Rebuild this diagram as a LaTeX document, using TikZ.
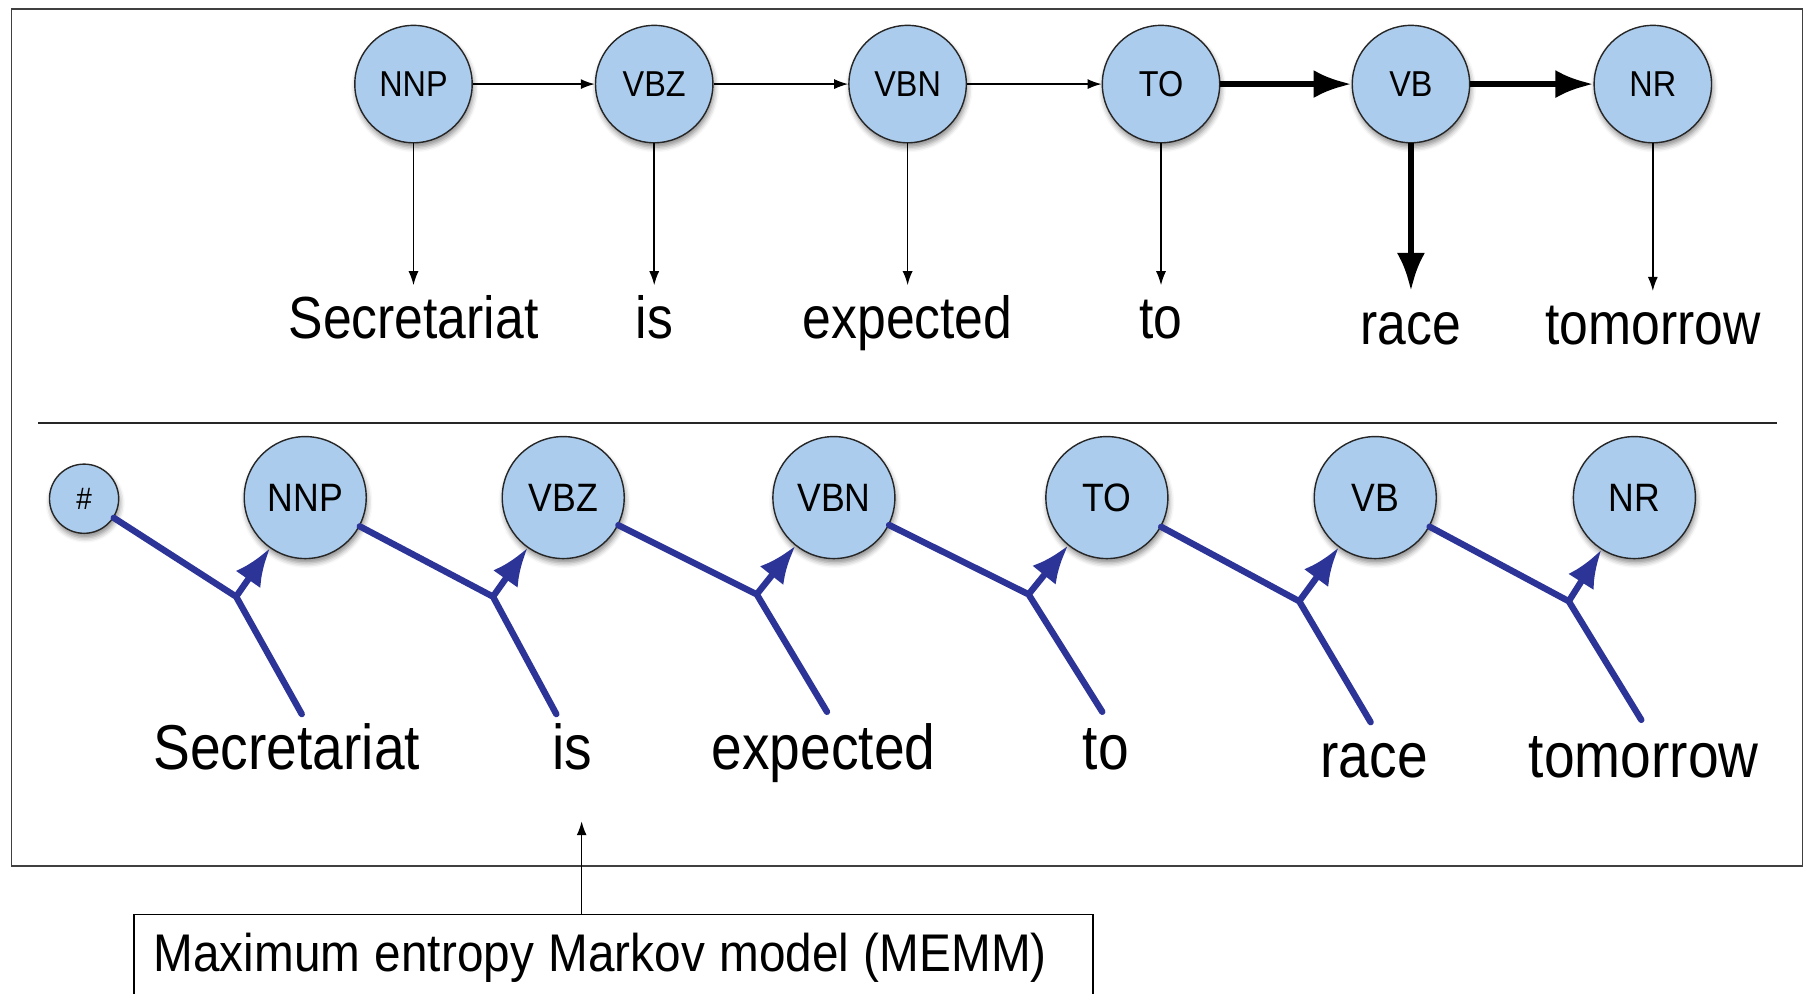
\documentclass[tikz,border=0pt]{standalone}
\usepackage{fontspec}
\setmainfont{Liberation Sans}
\newfontfamily\narrowsans[FakeStretch=0.87]{Liberation Sans}
\newfontfamily\tagsans[FakeStretch=0.9]{Liberation Sans}
\newcommand\memmfont{\tagsans\fontsize{26.5}{29}\selectfont\spaceskip=7.3pt plus 1pt\relax}
\usetikzlibrary{arrows.meta,shadows.blur}
\definecolor{tagfill}{RGB}{171,204,236}
\definecolor{memmblue}{RGB}{44,52,152}

\begin{document}
\begin{tikzpicture}[x=0.5759pt,y=-0.5759pt,
  tagbase/.style={circle,draw=black!85,line width=0.7pt,fill=tagfill,inner sep=0pt,
    blur shadow={shadow xshift=0.6pt,shadow yshift=-2.2pt,shadow blur radius=2.5pt,shadow opacity=45}},
  toptag/.style={tagbase,minimum size=58.7pt,font=\tagsans\fontsize{18}{20}\selectfont},
  bottag/.style={tagbase,minimum size=61pt,font=\tagsans\fontsize{19.8}{22}\selectfont},
  starttag/.style={tagbase,minimum size=34.6pt,font=\tagsans\fontsize{15.5}{17}\selectfont},
  topword/.style={font=\narrowsans\fontsize{29.7}{32}\selectfont,anchor=base,
    text height=21.3pt,text depth=6pt,inner xsep=0pt,inner ysep=5.2pt},
  botword/.style={font=\narrowsans\fontsize{31.7}{34}\selectfont,anchor=base,
    text height=22.8pt,text depth=6pt,inner xsep=0pt,inner ysep=5.2pt},
  thinarrow/.style={line width=0.75pt,-{Latex[length=7pt,width=5pt]}},
  thickarrow/.style={line width=3.3pt,-{Latex[length=19pt,width=14pt]}},
  memmline/.style={draw=memmblue,line width=3.2pt,line cap=round,line join=miter},
  memmarrow/.style={draw=memmblue,fill=memmblue,line width=3.2pt,-{Latex[length=19pt,width=15pt]}},
  memmbox/.style={draw=black,line width=0.9pt,minimum width=479.7pt,minimum height=43.8pt,inner sep=0pt},
  memmtext/.style={anchor=west,inner sep=0pt,font=\memmfont}]

\useasboundingbox (0,0) rectangle (1568,863);

% outer frame and separator
\draw[black!75,line width=0.9pt] (10,8) rectangle (1565,752);
\draw[black!85,line width=0.8pt] (33,367) -- (1543,367);

% ---------- HMM (top) ----------
\node[toptag] (t1) at (359,73) {NNP};
\node[toptag] (t2) at (568,73) {VBZ};
\node[toptag] (t3) at (788,73) {VBN};
\node[toptag] (t4) at (1008,73) {TO};
\node[toptag] (t5) at (1225,73) {VB};
\node[toptag] (t6) at (1435,73) {NR};

\node[topword] (w1) at (359,294) {Secretariat};
\node[topword] (w2) at (568,294) {is};
\node[topword] (w3) at (788,294) {expected};
\node[topword] (w4) at (1008,294) {to};
\node[topword] (w5) at (1225,299) {race};
\node[topword] (w6) at (1435,299) {tomorrow};

\draw[thinarrow] (t1) -- (t2);
\draw[thinarrow] (t2) -- (t3);
\draw[thinarrow] (t3) -- (t4);
\draw[thickarrow] (t4) -- (t5);
\draw[thickarrow] (t5) -- (t6);

\draw[thinarrow] (t1) -- (w1);
\draw[thinarrow] (t2) -- (w2);
\draw[thinarrow] (t3) -- (w3);
\draw[thinarrow] (t4) -- (w4);
\draw[thickarrow] (t5) -- (w5);
\draw[thinarrow] (t6) -- (w6);

% ---------- MEMM (bottom) ----------
\node[starttag] (b0) at (73,433) {\#};
\node[bottag] (b1) at (265,432) {NNP};
\node[bottag] (b2) at (489,432) {VBZ};
\node[bottag] (b3) at (724,432) {VBN};
\node[bottag] (b4) at (961,432) {TO};
\node[bottag] (b5) at (1194,432) {VB};
\node[bottag] (b6) at (1419,432) {NR};

\node[botword] (v1) at (249,668) {Secretariat};
\node[botword] (v2) at (497,668) {is};
\node[botword] (v3) at (715,668) {expected};
\node[botword] (v4) at (960,668) {to};
\node[botword] (v5) at (1193,675) {race};
\node[botword] (v6) at (1427,675) {tomorrow};

% junctions where previous tag and current word meet
\coordinate (j1) at (205,518);  \coordinate (f1) at (262,620);
\coordinate (j2) at (428,518);  \coordinate (f2) at (483,620);
\coordinate (j3) at (657,516);  \coordinate (f3) at (718,618);
\coordinate (j4) at (893,516);  \coordinate (f4) at (957,618);
\coordinate (j5) at (1128,522); \coordinate (f5) at (1190,627);
\coordinate (j6) at (1362,522); \coordinate (f6) at (1425,625);

\draw[memmline] (b0) -- (j1) -- (f1);
\draw[memmline] (b1) -- (j2) -- (f2);
\draw[memmline] (b2) -- (j3) -- (f3);
\draw[memmline] (b3) -- (j4) -- (f4);
\draw[memmline] (b4) -- (j5) -- (f5);
\draw[memmline] (b5) -- (j6) -- (f6);

\draw[memmarrow] (j1) -- (b1);
\draw[memmarrow] (j2) -- (b2);
\draw[memmarrow] (j3) -- (b3);
\draw[memmarrow] (j4) -- (b4);
\draw[memmarrow] (j5) -- (b5);
\draw[memmarrow] (j6) -- (b6);

% caption box with pointer
\node[memmbox] (memm) at (532.5,832) {};
\node[memmtext] (memmlabel) at (133,832) {Maximum entropy Markov model (MEMM)};
\coordinate (ptr) at (505,713);
\draw[thinarrow] (ptr |- memm.north) -- (ptr);

\end{tikzpicture}
\end{document}
